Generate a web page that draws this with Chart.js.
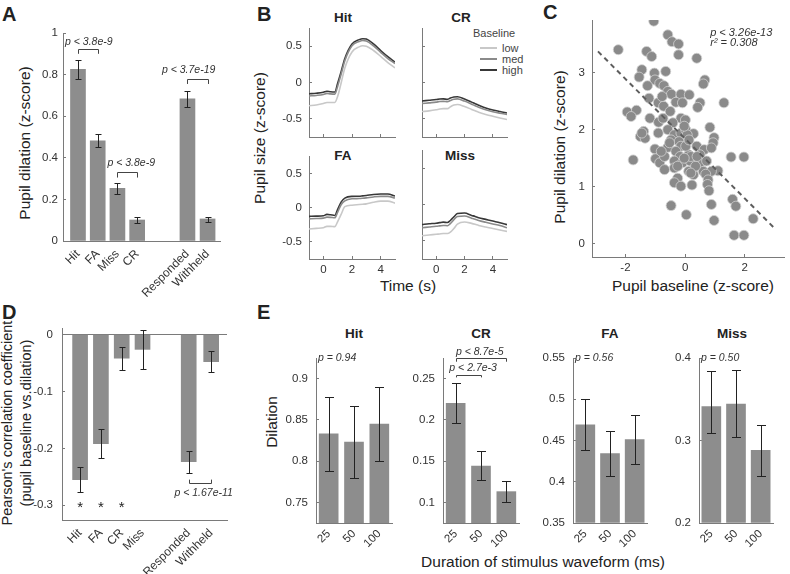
<!DOCTYPE html>
<html>
<head>
<meta charset="utf-8">
<script src="https://cdn.jsdelivr.net/npm/chart.js@4.4.0/dist/chart.umd.min.js"></script>
<style>
  body { margin: 0; background: #fff; }
  #fig { position: relative; width: 790px; height: 574px; overflow: hidden; font-family: 'Liberation Sans', Arial, sans-serif; color: #222; }
  #fig canvas { position: absolute; }
  .lbl { position: absolute; white-space: nowrap; transform: translate(-50%, -50%); }
  .rot { transform: translate(-50%, -50%) rotate(-90deg); }
  .letter { position: absolute; font-size: 20px; font-weight: bold; line-height: 20px; }
  .ttl { font-size: 13.5px; font-weight: bold; }
  .ax { font-size: 15.5px; }
  .two { font-size: 14.5px; line-height: 19px; text-align: center; }
  .leg { position: absolute; font-size: 11px; line-height: 11px; color: #444; }
  .sw { position: absolute; width: 17px; height: 2px; }
</style>
</head>
<body>
<div id="fig">
  <div class="letter" style="left:2px;top:4px">A</div>
  <div class="letter" style="left:257px;top:4px">B</div>
  <div class="letter" style="left:543px;top:2px">C</div>
  <div class="letter" style="left:2px;top:302px">D</div>
  <div class="letter" style="left:257px;top:302px">E</div>

  <div class="lbl rot ax" style="left:25px;top:143px">Pupil dilation (z-score)</div>

  <div class="lbl rot ax" style="left:260px;top:138px">Pupil size (z-score)</div>
  <div class="lbl ax" style="left:408px;top:286px">Time (s)</div>
  <div class="lbl ttl" style="left:343px;top:17px">Hit</div>
  <div class="lbl ttl" style="left:461px;top:17px">CR</div>
  <div class="lbl ttl" style="left:343px;top:155px">FA</div>
  <div class="lbl ttl" style="left:460px;top:155px">Miss</div>
  <div class="leg" style="left:473px;top:28px">Baseline</div>
  <div class="sw" style="left:480px;top:47px;background:#c8c8c8"></div>
  <div class="leg" style="left:502px;top:43px">low</div>
  <div class="sw" style="left:480px;top:58px;background:#8a8a8a"></div>
  <div class="leg" style="left:502px;top:54px">med</div>
  <div class="sw" style="left:480px;top:69px;background:#383838"></div>
  <div class="leg" style="left:502px;top:65px">high</div>

  <div class="lbl rot ax" style="left:560px;top:147px">Pupil dilation (z-score)</div>
  <div class="lbl ax" style="left:693px;top:286px">Pupil baseline (z-score)</div>

  <div class="lbl rot two" style="left:17px;top:423px">Pearson's correlation coefficient<br>(pupil baseline vs.dilation)</div>

  <div class="lbl rot ax" style="left:272px;top:422px">Dilation</div>
  <div class="lbl ax" style="left:543px;top:562px">Duration of stimulus waveform (ms)</div>
  <div class="lbl ttl" style="left:354px;top:333px">Hit</div>
  <div class="lbl ttl" style="left:481px;top:333px">CR</div>
  <div class="lbl ttl" style="left:610px;top:333px">FA</div>
  <div class="lbl ttl" style="left:732px;top:333px">Miss</div>
</div>

<script>
// A: pupil dilation per outcome
const aLabels = ['Hit', 'FA', 'Miss', 'CR', 'Responded', 'Withheld'];
const aPos = [1, 2, 3, 4, 6.55, 7.57];
const aDil = [0.825, 0.482, 0.253, 0.101, 0.683, 0.106];
const aLo = [0.779, 0.45, 0.226, 0.088, 0.643, 0.093];
const aHi = [0.87, 0.514, 0.28, 0.114, 0.723, 0.117];
const aTicks = [0, 0.2, 0.4, 0.6, 0.8, 1];

// B: pupil traces by baseline tercile
const bTime = [-1, -0.5, 0, 0.25, 0.5, 0.8, 1, 1.25, 1.5, 2, 2.5, 2.75, 3, 3.5, 4, 4.5, 5];
const hitHigh = [-0.155, -0.148, -0.135, -0.12, -0.127, -0.13, -0.01, 0.155, 0.33, 0.53, 0.59, 0.603, 0.597, 0.53, 0.44, 0.355, 0.28];
const hitMed = [-0.185, -0.178, -0.165, -0.15, -0.157, -0.16, -0.05, 0.12, 0.3, 0.505, 0.565, 0.578, 0.572, 0.505, 0.415, 0.33, 0.26];
const hitLow = [-0.32, -0.31, -0.29, -0.275, -0.275, -0.275, -0.19, 0.0, 0.2, 0.42, 0.49, 0.505, 0.5, 0.44, 0.36, 0.275, 0.2];
const crHigh = [-0.255, -0.245, -0.235, -0.228, -0.226, -0.232, -0.215, -0.2, -0.197, -0.228, -0.27, -0.292, -0.312, -0.35, -0.378, -0.4, -0.42];
const crMed = [-0.29, -0.28, -0.27, -0.262, -0.26, -0.265, -0.248, -0.23, -0.226, -0.256, -0.298, -0.32, -0.34, -0.375, -0.402, -0.422, -0.44];
const crLow = [-0.4, -0.39, -0.375, -0.365, -0.36, -0.36, -0.335, -0.31, -0.303, -0.33, -0.37, -0.39, -0.41, -0.44, -0.465, -0.488, -0.51];
const faHigh = [-0.124, -0.12, -0.115, -0.095, -0.1, -0.11, -0.02, 0.09, 0.145, 0.17, 0.172, 0.178, 0.184, 0.198, 0.205, 0.205, 0.175];
const faMed = [-0.16, -0.155, -0.15, -0.135, -0.138, -0.145, -0.06, 0.05, 0.105, 0.135, 0.138, 0.142, 0.148, 0.162, 0.17, 0.17, 0.145];
const faLow = [-0.31, -0.3, -0.29, -0.27, -0.27, -0.275, -0.2, -0.09, 0.02, 0.04, 0.05, 0.055, 0.06, 0.085, 0.1, 0.1, 0.07];
const missHigh = [-0.275, -0.265, -0.257, -0.25, -0.243, -0.248, -0.22, -0.17, -0.125, -0.118, -0.15, -0.165, -0.182, -0.205, -0.228, -0.25, -0.278];
const missMed = [-0.32, -0.31, -0.3, -0.294, -0.288, -0.292, -0.262, -0.21, -0.165, -0.158, -0.188, -0.203, -0.22, -0.245, -0.268, -0.29, -0.32];
const missLow = [-0.43, -0.42, -0.41, -0.405, -0.4, -0.4, -0.38, -0.33, -0.27, -0.24, -0.26, -0.273, -0.288, -0.31, -0.33, -0.35, -0.37];
const bTicksY = [-0.5, 0, 0.5];
const bTicksX = [0, 2, 4];

// C: baseline vs dilation, one dot per session
const cBase = [-1.05, -0.58, -0.44, -0.22, -2.24, -1.29, -1.12, -0.22, -1.45, -1.54, -1.03, -0.65, -1.01, -1.26, -0.85, -0.71,
  -0.58, -0.46, -0.14, -1.21, -0.9, -0.72, -0.5, -0.31, -0.09, -1.94, -1.63, -1.81, -1.18, -0.89, -0.74, -0.14,
  -0.41, -1.39, -1.5, -1.34, -0.9, -0.58, -0.36, -0.14, 0.02, -0.47, -0.2, -0.58, -0.14, -1.01, -0.99, -0.85,
  -0.69, -0.31, -0.17, -0.36, -0.09, -0.36, -1.74, -0.25, -0.36, -0.14, -0.47, 0.04, 0.39, 0.66, 0.61, 0.14,
  0.5, 0.42, 1.3, 0.83, 0.97, 0.94, 0.01, 0.28, 0.07, 0.39, 0.64, 0.5, 0.88, 0.12, 0.17, 0.5,
  0.72, 1.1, 0.61, 0.28, 0.88, 0.69, 0.12, 0.77, 0.23, 0.75, 0.8, 1.54, 1.97, 0.88, 1.59, 1.7,
  0.97, 2.28, 1.64, 1.97, -0.03, 0.02, 0.19, 0.35, -0.25, -0.69, 0.19, -0.52, -0.8, -0.03, 0.4, -1.45,
  -0.77, 0.13];
const cDil = [3.9, 3.66, 3.54, 3.5, 3.4, 3.37, 3.28, 3.31, 3.05, 2.92, 2.99, 3.02, 2.87, 2.77, 2.81, 2.77,
  2.67, 2.62, 2.62, 2.55, 2.47, 2.41, 2.32, 2.48, 2.47, 2.31, 2.34, 2.23, 2.2, 2.13, 2.2, 2.2,
  2.12, 1.97, 1.88, 1.85, 1.94, 2.0, 1.91, 1.94, 2.0, 1.82, 1.79, 1.69, 1.71, 1.66, 1.49, 1.42,
  1.3, 1.62, 1.53, 1.45, 1.42, 1.33, 1.47, 1.15, 1.07, 1.01, 0.67, 0.51, 3.25, 2.87, 2.8, 2.61,
  2.47, 2.39, 2.47, 2.04, 1.86, 1.77, 2.17, 1.93, 1.91, 1.71, 1.65, 1.56, 1.68, 1.56, 1.45, 1.42,
  1.45, 1.28, 1.27, 1.21, 1.27, 1.22, 1.27, 1.12, 1.03, 1.04, 0.93, 1.52, 1.52, 0.69, 0.78, 0.66,
  0.41, 0.44, 0.15, 0.15, 2.06, 1.71, 1.53, 1.36, 1.36, 1.53, 1.24, 1.77, 1.62, 1.5, 1.53, 1.94,
  2.58, 1.82];
const fitX = [-2.92, 3.04];
const fitY = [3.37, 0.25];
const cTicksX = [-2, 0, 2];
const cTicksY = [0, 1, 2, 3];

// D: correlation coefficient per outcome
const dLabels = ['Hit', 'FA', 'CR', 'Miss', 'Responded', 'Withheld'];
const dPos = [1, 2, 3, 4, 6.22, 7.3];
const dCorr = [-0.255, -0.192, -0.0415, -0.026, -0.2235, -0.0476];
const dLo = [-0.277, -0.217, -0.063, -0.061, -0.244, -0.0655];
const dHi = [-0.2325, -0.166, -0.021, 0.008, -0.204, -0.029];
const dTicks = [-0.3, -0.2, -0.1, 0];

// E: dilation by stimulus duration
const eCats = ['25', '50', '100'];
const eHit = [0.833, 0.823, 0.845];
const eHitLo = [0.788, 0.78, 0.8];
const eHitHi = [0.878, 0.867, 0.89];
const eCR = [0.22, 0.144, 0.113];
const eCRLo = [0.196, 0.127, 0.101];
const eCRHi = [0.245, 0.162, 0.126];
const eFA = [0.469, 0.434, 0.451];
const eFALo = [0.438, 0.407, 0.421];
const eFAHi = [0.5, 0.461, 0.481];
const eMiss = [0.341, 0.344, 0.288];
const eMissLo = [0.309, 0.304, 0.257];
const eMissHi = [0.384, 0.385, 0.319];

const FONT = "'Liberation Sans', Arial, sans-serif";
const AXIS = '#7a7a7a';
const INK = '#333';
const BAR = '#8d8d8d';
const TICK = 11.5;

Chart.defaults.font.family = FONT;
Chart.defaults.font.size = TICK;
Chart.defaults.color = INK;
Chart.defaults.animation = false;
Chart.defaults.plugins.legend.display = false;
Chart.defaults.plugins.tooltip.enabled = false;

const fmt = (v) => String(Math.round(v * 1000) / 1000);

// error bars on top of bar datasets
const errPlugin = {
  id: 'errbars',
  afterDatasetsDraw(chart, args, opts) {
    if (!opts.lo) return;
    const { ctx } = chart;
    const y = chart.scales.y;
    const cap = opts.cap || 3;
    ctx.save();
    ctx.strokeStyle = '#222';
    ctx.lineWidth = 1;
    chart.getDatasetMeta(0).data.forEach((bar, i) => {
      const x = Math.round(bar.x) + 0.5;
      const y1 = Math.round(y.getPixelForValue(opts.lo[i])) + 0.5;
      const y2 = Math.round(y.getPixelForValue(opts.hi[i])) + 0.5;
      ctx.beginPath();
      ctx.moveTo(x, y1); ctx.lineTo(x, y2);
      ctx.moveTo(x - cap, y1); ctx.lineTo(x + cap, y1);
      ctx.moveTo(x - cap, y2); ctx.lineTo(x + cap, y2);
      ctx.stroke();
    });
    ctx.restore();
  },
};

// significance brackets and small notes
const notePlugin = {
  id: 'notes',
  afterDraw(chart, args, opts) {
    const { ctx } = chart;
    const { x, y } = chart.scales;
    ctx.save();
    ctx.strokeStyle = '#444';
    ctx.lineWidth = 1;
    (opts.brackets || []).forEach((b) => {
      const x1 = Math.round(x.getPixelForValue(b.a)) + 0.5;
      const x2 = Math.round(x.getPixelForValue(b.b)) + 0.5;
      const yy = Math.round(y.getPixelForValue(b.y)) + 0.5;
      const yt = y.getPixelForValue(b.tip);
      ctx.beginPath();
      ctx.moveTo(x1, yt); ctx.lineTo(x1, yy); ctx.lineTo(x2, yy); ctx.lineTo(x2, yt);
      ctx.stroke();
    });
    (opts.texts || []).forEach((t) => {
      ctx.font = t.font || `italic 10.5px ${FONT}`;
      ctx.fillStyle = t.color || '#333';
      ctx.textAlign = t.align || 'center';
      ctx.textBaseline = 'middle';
      ctx.fillText(t.text, x.getPixelForValue(t.x) + (t.dx || 0), y.getPixelForValue(t.y));
    });
    ctx.restore();
  },
};

const mount = (id, r, m) => {
  const c = document.createElement('canvas');
  c.id = id;
  c.width = r[2] - r[0] + m.l + m.r;
  c.height = r[3] - r[1] + m.t + m.b;
  c.style.left = (r[0] - m.l) + 'px';
  c.style.top = (r[1] - m.t) + 'px';
  document.getElementById('fig').appendChild(c);
  return c;
};

const valY = (min, max, ticks, w, pad, grid, show = true) => ({
  type: 'linear', min, max,
  afterFit: (s) => { s.width = w; },
  afterBuildTicks: (s) => { s.ticks = ticks.map((v) => ({ value: v })); },
  ticks: { display: show, padding: pad, callback: (v) => fmt(v), color: INK, font: { size: TICK } },
  grid: { drawOnChartArea: false, tickLength: -3, tickColor: AXIS, ...grid },
  border: { color: AXIS },
});

const numX = (min, max, ticks, h, show) => ({
  type: 'linear', min, max,
  afterFit: (s) => { s.height = h; },
  afterBuildTicks: (s) => { s.ticks = ticks.map((v) => ({ value: v })); },
  ticks: { display: show, padding: 7, maxRotation: 0, autoSkip: false, callback: (v) => fmt(v), color: INK, font: { size: TICK } },
  grid: { drawOnChartArea: false, tickLength: -3, tickColor: AXIS },
  border: { color: AXIS },
});

const posX = (min, max, pos, labels, h) => ({
  type: 'linear', min, max, offset: false,
  afterFit: (s) => { s.height = h; },
  afterBuildTicks: (s) => { s.ticks = pos.map((v) => ({ value: v })); },
  ticks: { autoSkip: false, minRotation: 45, maxRotation: 45, padding: 6, callback: (v, i) => labels[i], color: INK, font: { size: 12 } },
  grid: { display: false, drawTicks: false },
  border: { color: AXIS },
});

const pad = (m) => ({ padding: { left: 0, top: m.t, right: m.r, bottom: 0 } });

// ---- A ----
const mA = { l: 63, t: 33, r: 15, b: 60 };
new Chart(mount('chartA', [63, 33, 220, 241], mA), {
  type: 'bar',
  data: { datasets: [{ data: aPos.map((x, i) => ({ x, y: aDil[i] })), backgroundColor: BAR, barThickness: 15 }] },
  options: {
    responsive: false,
    layout: pad(mA),
    scales: { x: posX(0.24, 8.2, aPos, aLabels, mA.b), y: valY(0, 1, aTicks, mA.l, 8) },
    plugins: {
      errbars: { lo: aLo, hi: aHi, cap: 3 },
      notes: {
        brackets: [
          { a: 1, b: 2, y: 0.925, tip: 0.9 },
          { a: 3, b: 4, y: 0.33, tip: 0.305 },
          { a: 6.55, b: 7.57, y: 0.779, tip: 0.755 },
        ],
        texts: [
          { x: 1.55, y: 0.958, text: 'p < 3.8e-9' },
          { x: 3.7, y: 0.373, text: 'p < 3.8e-9' },
          { x: 6.61, y: 0.82, text: 'p < 3.7e-19' },
        ],
      },
    },
  },
  plugins: [errPlugin, notePlugin],
});

// ---- B ----
const bShade = [['low', '#c8c8c8'], ['med', '#8a8a8a'], ['high', '#383838']];
const bPanels = [
  { id: 'bHit', r: [309, 28, 395, 137], m: { l: 40, t: 28, r: 5, b: 20 }, sets: [hitLow, hitMed, hitHigh], showX: false, showY: true },
  { id: 'bCR', r: [422, 28, 507, 137], m: { l: 30, t: 28, r: 5, b: 20 }, sets: [crLow, crMed, crHigh], showX: false, showY: false },
  { id: 'bFA', r: [309, 150, 395, 259], m: { l: 40, t: 10, r: 5, b: 20 }, sets: [faLow, faMed, faHigh], showX: true, showY: true },
  { id: 'bMiss', r: [422, 150, 507, 259], m: { l: 30, t: 10, r: 5, b: 20 }, sets: [missLow, missMed, missHigh], showX: true, showY: false },
];
bPanels.forEach((p) => {
  new Chart(mount(p.id, p.r, p.m), {
    type: 'line',
    data: {
      datasets: p.sets.map((arr, k) => ({
        label: bShade[k][0],
        data: bTime.map((t, i) => ({ x: t, y: arr[i] })),
        borderColor: bShade[k][1],
        borderWidth: 1.6,
        pointRadius: 0,
        cubicInterpolationMode: 'monotone',
      })),
    },
    options: {
      responsive: false,
      layout: pad(p.m),
      scales: {
        x: numX(-1, 5, bTicksX, p.m.b, p.showX),
        y: valY(-0.75, 0.75, bTicksY, p.m.l, 10, {}, p.showY),
      },
    },
  });
});

// ---- C ----
const mC = { l: 52, t: 20, r: 1, b: 40 };
new Chart(mount('chartC', [592, 20, 789, 257], mC), {
  type: 'scatter',
  data: {
    datasets: [
      {
        type: 'line',
        data: fitX.map((x, i) => ({ x, y: fitY[i] })),
        borderColor: '#5e5e5e',
        borderWidth: 2,
        borderDash: [5, 4],
        pointRadius: 0,
      },
      {
        data: cBase.map((x, i) => ({ x, y: cDil[i] })),
        backgroundColor: '#8a8a8a',
        borderColor: '#d2d2d2',
        borderWidth: 0.8,
        pointRadius: 5,
      },
    ],
  },
  options: {
    responsive: false,
    layout: pad(mC),
    scales: { x: numX(-3.12, 3.32, cTicksX, mC.b, true), y: valY(-0.23, 3.92, cTicksY, mC.l, 10) },
    plugins: {
      notes: {
        texts: [
          { x: 0.84, y: 3.7, text: 'p < 3.26e-13', align: 'left', font: `italic 11px ${FONT}` },
          { x: 0.84, y: 3.52, text: 'r\u00b2 = 0.308', align: 'left', font: `italic 11px ${FONT}` },
        ],
      },
    },
  },
  plugins: [notePlugin],
});

// ---- D ----
const mD = { l: 62, t: 10, r: 30, b: 54 };
new Chart(mount('chartD', [62, 320, 227, 520], mD), {
  type: 'bar',
  data: { datasets: [{ data: dPos.map((x, i) => ({ x, y: dCorr[i] })), backgroundColor: BAR, barThickness: 15 }] },
  options: {
    responsive: false,
    layout: pad(mD),
    scales: {
      x: posX(0.13, 8.06, dPos, dLabels, mD.b),
      y: valY(-0.326, 0.01, dTicks, mD.l, 12, {
        drawOnChartArea: true,
        color: (c) => (c.tick && c.tick.value === 0 ? AXIS : 'rgba(0,0,0,0)'),
      }),
    },
    plugins: {
      errbars: { lo: dLo, hi: dHi, cap: 3 },
      notes: {
        brackets: [{ a: 6.22, b: 7.3, y: -0.2617, tip: -0.255 }],
        texts: [
          { x: 6.94, y: -0.278, text: 'p < 1.67e-11' },
          { x: 1, y: -0.304, text: '*', font: `15px ${FONT}`, color: '#222' },
          { x: 2, y: -0.304, text: '*', font: `15px ${FONT}`, color: '#222' },
          { x: 3, y: -0.304, text: '*', font: `15px ${FONT}`, color: '#222' },
        ],
      },
    },
  },
  plugins: [errPlugin, notePlugin],
});

// ---- E ----
const ePanels = [
  { id: 'eHit', r: [316, 358, 392, 523], l: 54, min: 0.725, max: 0.925, ticks: [0.75, 0.8, 0.85, 0.9], val: eHit, lo: eHitLo, hi: eHitHi,
    notes: { texts: [{ x: -0.5, dx: 2, y: 0.925, text: 'p = 0.94', align: 'left' }] } },
  { id: 'eCR', r: [443, 358, 519, 523], l: 40, min: 0.075, max: 0.275, ticks: [0.1, 0.15, 0.2, 0.25], val: eCR, lo: eCRLo, hi: eCRHi,
    notes: {
      brackets: [{ a: 0, b: 2, y: 0.2746, tip: 0.2705 }, { a: 0, b: 1, y: 0.2546, tip: 0.2515 }],
      texts: [{ x: 0.95, y: 0.2826, text: 'p < 8.7e-5' }, { x: 0.69, y: 0.2626, text: 'p < 2.7e-3' }],
    } },
  { id: 'eFA', r: [573, 358, 647, 523], l: 42, min: 0.35, max: 0.55, ticks: [0.35, 0.4, 0.45, 0.5, 0.55], val: eFA, lo: eFALo, hi: eFAHi,
    notes: { texts: [{ x: -0.5, dx: 2, y: 0.55, text: 'p = 0.56', align: 'left' }] } },
  { id: 'eMiss', r: [699, 358, 773, 523], l: 35, min: 0.2, max: 0.4, ticks: [0.2, 0.3, 0.4], val: eMiss, lo: eMissLo, hi: eMissHi,
    notes: { texts: [{ x: -0.5, dx: 2, y: 0.4, text: 'p = 0.50', align: 'left' }] } },
];
ePanels.forEach((p) => {
  const m = { l: p.l, t: 30, r: 10, b: 30 };
  new Chart(mount(p.id, p.r, m), {
    type: 'bar',
    data: { labels: eCats, datasets: [{ data: p.val, backgroundColor: BAR, barThickness: 19, base: p.min }] },
    options: {
      responsive: false,
      layout: pad(m),
      scales: {
        x: {
          afterFit: (s) => { s.height = m.b; },
          ticks: { autoSkip: false, minRotation: 45, maxRotation: 45, padding: 4, color: INK, font: { size: 11.5 } },
          grid: { display: false, drawTicks: false },
          border: { color: AXIS },
        },
        y: valY(p.min, p.max, p.ticks, m.l, 11),
      },
      plugins: { errbars: { lo: p.lo, hi: p.hi, cap: 4.5 }, notes: p.notes },
    },
    plugins: [errPlugin, notePlugin],
  });
});
</script>
</body>
</html>
